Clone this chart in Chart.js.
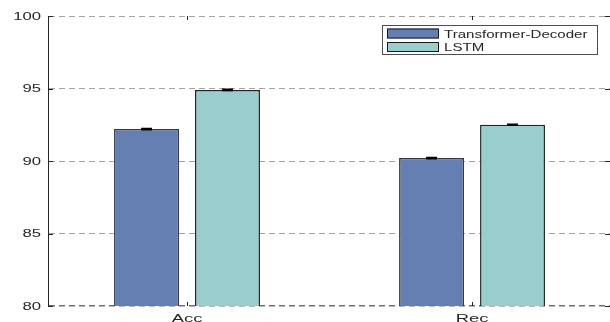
<!DOCTYPE html>
<html>
<head>
<meta charset="utf-8">
<script src="https://cdn.jsdelivr.net/npm/chart.js@4/dist/chart.umd.min.js"></script>
<style>
  html, body { margin: 0; padding: 0; background: #ffffff; }
  #wrap { width: 610px; height: 322px; }
</style>
</head>
<body>
<div id="wrap"><canvas id="chart" width="610" height="322"></canvas></div>
<script>
// Metric names and their slot positions on the x axis
const categories = ['Acc', 'Rec'];
const categoryPositions = [1, 2];

// Scores (%) per model
const transformerDecoder = [92.2, 90.2];
const lstm = [94.9, 92.5];

// Standard deviation of each score
const transformerDecoderErr = [0.04, 0.04];
const lstmErr = [0.04, 0.04];

// Y axis tick values
const yTicks = [80, 85, 90, 95, 100];

const seriesNames = ['Transformer-Decoder', 'LSTM'];
const seriesColors = ['#667fb2', '#9acdce'];
const seriesEdges = ['#353a46', '#1f2626'];
const seriesErrors = [transformerDecoderErr, lstmErr];

const FONT = '"Liberation Sans", Arial, Helvetica, sans-serif';
const INK = '#262626';

// Draw text widened horizontally by factor sx
function wideText(ctx, text, x, y, align, baseline, sx) {
  ctx.save();
  ctx.translate(x, y);
  ctx.scale(sx, 1);
  ctx.textAlign = align;
  ctx.textBaseline = baseline;
  ctx.fillText(text, 0, 0);
  ctx.restore();
}

// Error bars on top of every bar
const errorBars = {
  id: 'errorBars',
  afterDatasetsDraw(chart) {
    const ctx = chart.ctx;
    const y = chart.scales.y;
    chart.data.datasets.forEach((ds, di) => {
      const meta = chart.getDatasetMeta(di);
      meta.data.forEach((bar, i) => {
        const v = ds.data[i];
        const e = seriesErrors[di][i];
        const yHi = y.getPixelForValue(v + e);
        const yLo = y.getPixelForValue(v - e);
        const half = 5.5;
        ctx.save();
        ctx.strokeStyle = '#000000';
        ctx.lineWidth = 1.5;
        ctx.beginPath();
        ctx.moveTo(bar.x, yHi); ctx.lineTo(bar.x, yLo);
        ctx.moveTo(bar.x - half, yHi); ctx.lineTo(bar.x + half, yHi);
        ctx.moveTo(bar.x - half, yLo); ctx.lineTo(bar.x + half, yLo);
        ctx.stroke();
        ctx.restore();
      });
    });
  }
};

// Axis labels, inward tick marks and the boxed legend
const axesAndLegend = {
  id: 'axesAndLegend',
  afterDraw(chart) {
    const ctx = chart.ctx;
    const area = chart.chartArea;
    const xs = chart.scales.x;
    const ys = chart.scales.y;

    ctx.save();
    ctx.strokeStyle = INK;
    ctx.lineWidth = 1;
    ctx.beginPath();
    yTicks.forEach(t => {
      const py = Math.round(ys.getPixelForValue(t)) + 0.5;
      ctx.moveTo(area.left, py); ctx.lineTo(area.left + 5, py);
      ctx.moveTo(area.right - 5, py); ctx.lineTo(area.right, py);
    });
    categoryPositions.forEach(p => {
      const px = Math.round(xs.getPixelForValue(p)) + 0.5;
      ctx.moveTo(px, area.top); ctx.lineTo(px, area.top + 4);
      ctx.moveTo(px, area.bottom); ctx.lineTo(px, area.bottom - 4);
    });
    ctx.stroke();

    // tick labels
    ctx.fillStyle = INK;
    ctx.font = '11.5px ' + FONT;
    yTicks.forEach(t => {
      wideText(ctx, String(t), 41, ys.getPixelForValue(t) + 0.5, 'right', 'middle', 1.45);
    });
    ctx.font = '10.5px ' + FONT;
    categoryPositions.forEach((p, i) => {
      wideText(ctx, categories[i], xs.getPixelForValue(p), 321.5, 'center', 'alphabetic', 1.75);
    });

    // legend box
    const lx = 382, ly = 25, lw = 215, lh = 29;
    ctx.fillStyle = '#ffffff';
    ctx.fillRect(lx, ly, lw, lh);
    ctx.strokeStyle = '#4d4d4d';
    ctx.lineWidth = 1;
    ctx.strokeRect(lx + 0.5, ly + 0.5, lw, lh);
    ctx.font = '11px ' + FONT;
    chart.data.datasets.forEach((ds, i) => {
      const sy = 28.5 + i * 13.5;
      ctx.fillStyle = ds.backgroundColor;
      ctx.fillRect(387, sy, 52, 10);
      ctx.strokeStyle = '#1a1a1a';
      ctx.strokeRect(387.5, sy + 0.5, 51, 9);
      ctx.fillStyle = INK;
      wideText(ctx, ds.label, 444, sy + 9, 'left', 'alphabetic', 1.37);
    });
    ctx.restore();
  }
};

new Chart(document.getElementById('chart'), {
  type: 'bar',
  data: {
    labels: categoryPositions,
    datasets: seriesNames.map((name, i) => ({
      label: name,
      data: i === 0 ? transformerDecoder : lstm,
      backgroundColor: seriesColors[i],
      borderColor: seriesEdges[i],
      borderWidth: 1.5,
      borderSkipped: false,
      categoryPercentage: 0.568,
      barPercentage: 0.802
    }))
  },
  options: {
    responsive: false,
    animation: false,
    devicePixelRatio: 1,
    layout: { padding: { top: 16, right: 0, left: 0, bottom: 0 } },
    plugins: {
      legend: { display: false },
      tooltip: { enabled: false },
      title: { display: false }
    },
    scales: {
      x: {
        type: 'linear',
        offset: false,
        min: 0.5123,
        max: 2.484,
        grid: { display: false, drawTicks: false },
        border: { display: false },
        ticks: { display: false },
        afterBuildTicks(scale) {
          scale.ticks = categoryPositions.map(v => ({ value: v }));
        },
        afterFit(scale) { scale.height = 16; }
      },
      y: {
        min: 80,
        max: 100,
        ticks: { display: false, stepSize: 5 },
        grid: {
          drawTicks: false,
          color: ctx => (ctx.tick && ctx.tick.value === 80) ? '#6e6e6e' : '#a3a3a3',
          lineWidth: ctx => (ctx.tick && ctx.tick.value === 80) ? 1.5 : 1
        },
        border: { display: true, color: INK, width: 1, dash: [6, 4] },
        afterFit(scale) { scale.width = 48; }
      }
    }
  },
  plugins: [errorBars, axesAndLegend]
});
</script>
</body>
</html>
